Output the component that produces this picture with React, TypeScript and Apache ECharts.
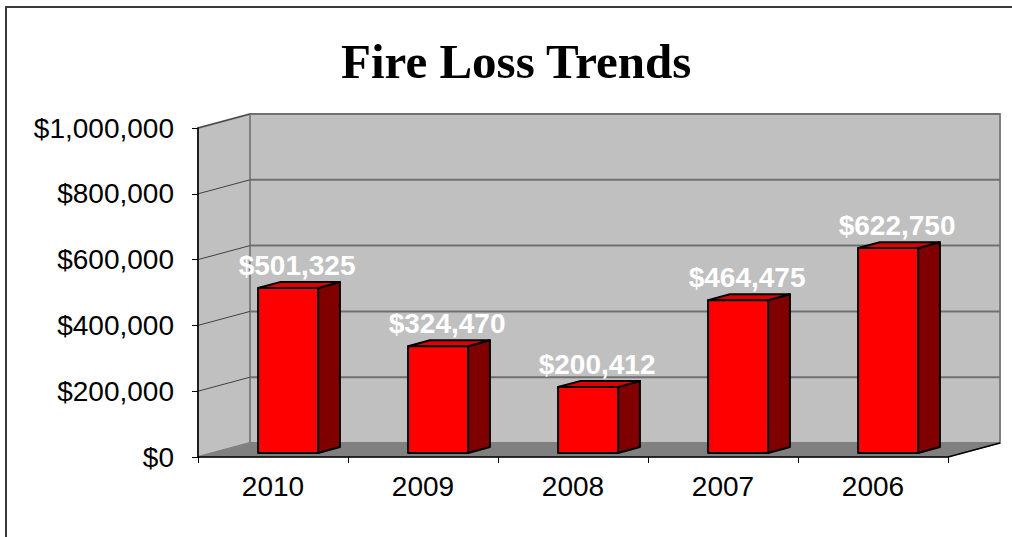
import React, { useEffect, useRef } from "react";
import * as echarts from "echarts";

const categories = ["2010", "2009", "2008", "2007", "2006"];
const losses = [501325, 324470, 200412, 464475, 622750];
const yTicks = [0, 200000, 400000, 600000, 800000, 1000000];
const titleText = "Fire Loss Trends";

const DX = 52;
const DY = -14;
const Z1 = 0.29;
const Z2 = 0.71;

const money = (v: number) => "$" + Math.round(v).toLocaleString("en-US");

export default function App() {
  const ref = useRef<HTMLDivElement>(null);
  useEffect(() => {
    if (!ref.current) return;
    const chart = echarts.init(ref.current, null, { renderer: "svg" });
    const option: any = {
      animation: false,
      backgroundColor: "#ffffff",
      title: {
        text: titleText,
        left: 336,
        top: 32,
        textStyle: {
          fontFamily: "Liberation Serif",
          fontWeight: "bold",
          fontSize: 49,
          color: "#000000",
        },
      },
      graphic: [
        {
          type: "rect",
          z: 100,
          silent: true,
          shape: { x: 6, y: 7, width: 1200, height: 700 },
          style: { fill: "none", stroke: "#3a3a3a", lineWidth: 2 },
        },
      ],
      grid: { left: 198, top: 128, width: 750, height: 329 },
      xAxis: {
        type: "category",
        data: categories,
        z: 10,
        axisLine: { show: true, lineStyle: { color: "#000000", width: 1.5 } },
        axisTick: { show: true, length: 6, lineStyle: { color: "#000000" } },
        axisLabel: {
          margin: 15,
          fontFamily: "Liberation Sans",
          fontSize: 28,
          color: "#000000",
        },
        splitLine: { show: false },
      },
      yAxis: {
        type: "value",
        min: 0,
        max: 1000000,
        interval: 200000,
        z: 10,
        axisLine: { show: true, lineStyle: { color: "#000000", width: 1.5 } },
        axisTick: { show: true, length: 6, lineStyle: { color: "#000000" } },
        axisLabel: {
          margin: 24,
          fontFamily: "Liberation Sans",
          fontSize: 28,
          color: "#000000",
          formatter: (v: number) => money(v),
        },
        splitLine: { show: false },
      },
      series: [
        {
          type: "custom",
          name: "walls",
          clip: false,
          silent: true,
          z: 1,
          data: [[0, 0]],
          renderItem: (params: any) => {
            const cs = params.coordSys;
            const x0 = cs.x, y0 = cs.y, w = cs.width, h = cs.height;
            const yb = y0 + h;
            return {
              type: "group",
              children: [
                {
                  type: "polygon",
                  shape: {
                    points: [
                      [x0, yb],
                      [x0, y0],
                      [x0 + DX, y0 + DY],
                      [x0 + DX, yb + DY],
                    ],
                  },
                  style: { fill: "#c0c0c0", stroke: "#808080", lineWidth: 2 },
                },
                {
                  type: "rect",
                  shape: { x: x0 + DX, y: y0 + DY, width: w, height: h },
                  style: { fill: "#c0c0c0", stroke: "#808080", lineWidth: 2 },
                },
                {
                  type: "polygon",
                  shape: {
                    points: [
                      [x0, yb],
                      [x0 + w, yb],
                      [x0 + w + DX, yb + DY],
                      [x0 + DX, yb + DY],
                    ],
                  },
                  style: { fill: "#808080", stroke: "#808080", lineWidth: 1 },
                },
                {
                  type: "line",
                  shape: { x1: x0 + w, y1: yb, x2: x0 + w + DX, y2: yb + DY },
                  style: { stroke: "#000000", lineWidth: 1.5 },
                },
              ],
            };
          },
        },
        {
          type: "custom",
          name: "grid",
          clip: false,
          silent: true,
          z: 2,
          data: yTicks.filter((v) => v > 0).map((v) => [0, v]),
          renderItem: (params: any, api: any) => {
            const cs = params.coordSys;
            const y = api.coord([0, api.value(1)])[1];
            const x0 = cs.x;
            return {
              type: "group",
              children: [
                {
                  type: "line",
                  shape: { x1: x0, y1: y, x2: x0 + DX, y2: y + DY },
                  style: { stroke: "#404040", lineWidth: 1 },
                },
                {
                  type: "line",
                  shape: { x1: x0 + DX, y1: y + DY, x2: x0 + DX + cs.width, y2: y + DY },
                  style: { stroke: "#707070", lineWidth: 2 },
                },
              ],
            };
          },
        },
        {
          type: "custom",
          name: "Fire Loss",
          clip: false,
          z: 3,
          data: losses.map((v, i) => [i, v]),
          renderItem: (params: any, api: any) => {
            const idx = api.value(0);
            const v = api.value(1);
            const top = api.coord([idx, v]);
            const base = api.coord([idx, 0]);
            const band = api.size([1, 0])[0];
            const bw = band * 0.4;
            const fx = top[0] - bw / 2 + Z1 * DX;
            const fyT = top[1] + Z1 * DY;
            const fyB = base[1] + Z1 * DY;
            const dx = (Z2 - Z1) * DX;
            const dy = (Z2 - Z1) * DY;
            const border = { stroke: "#000000", lineWidth: 2, lineJoin: "round" };
            return {
              type: "group",
              children: [
                {
                  type: "polygon",
                  shape: {
                    points: [
                      [fx + bw, fyT],
                      [fx + bw + dx, fyT + dy],
                      [fx + bw + dx, fyB + dy],
                      [fx + bw, fyB],
                    ],
                  },
                  style: { fill: "#800000", ...border },
                },
                {
                  type: "polygon",
                  shape: {
                    points: [
                      [fx, fyT],
                      [fx + bw, fyT],
                      [fx + bw + dx, fyT + dy],
                      [fx + dx, fyT + dy],
                    ],
                  },
                  style: { fill: "#e00000", ...border },
                },
                {
                  type: "rect",
                  shape: { x: fx, y: fyT, width: bw, height: fyB - fyT },
                  style: { fill: "#ff0000", ...border },
                },
                {
                  type: "text",
                  style: {
                    text: money(v),
                    x: fx + bw / 2 + 9,
                    y: fyT - 23,
                    align: "center",
                    verticalAlign: "middle",
                    fill: "#ffffff",
                    fontFamily: "Liberation Sans",
                    fontWeight: "bold",
                    fontSize: 28,
                  },
                },
              ],
            };
          },
        },
      ],
    };
    chart.setOption(option);
    return () => chart.dispose();
  }, []);
  return (
    <div
      ref={ref}
      style={{ position: "absolute", left: 0, top: 0, width: 1012, height: 537 }}
    />
  );
}
